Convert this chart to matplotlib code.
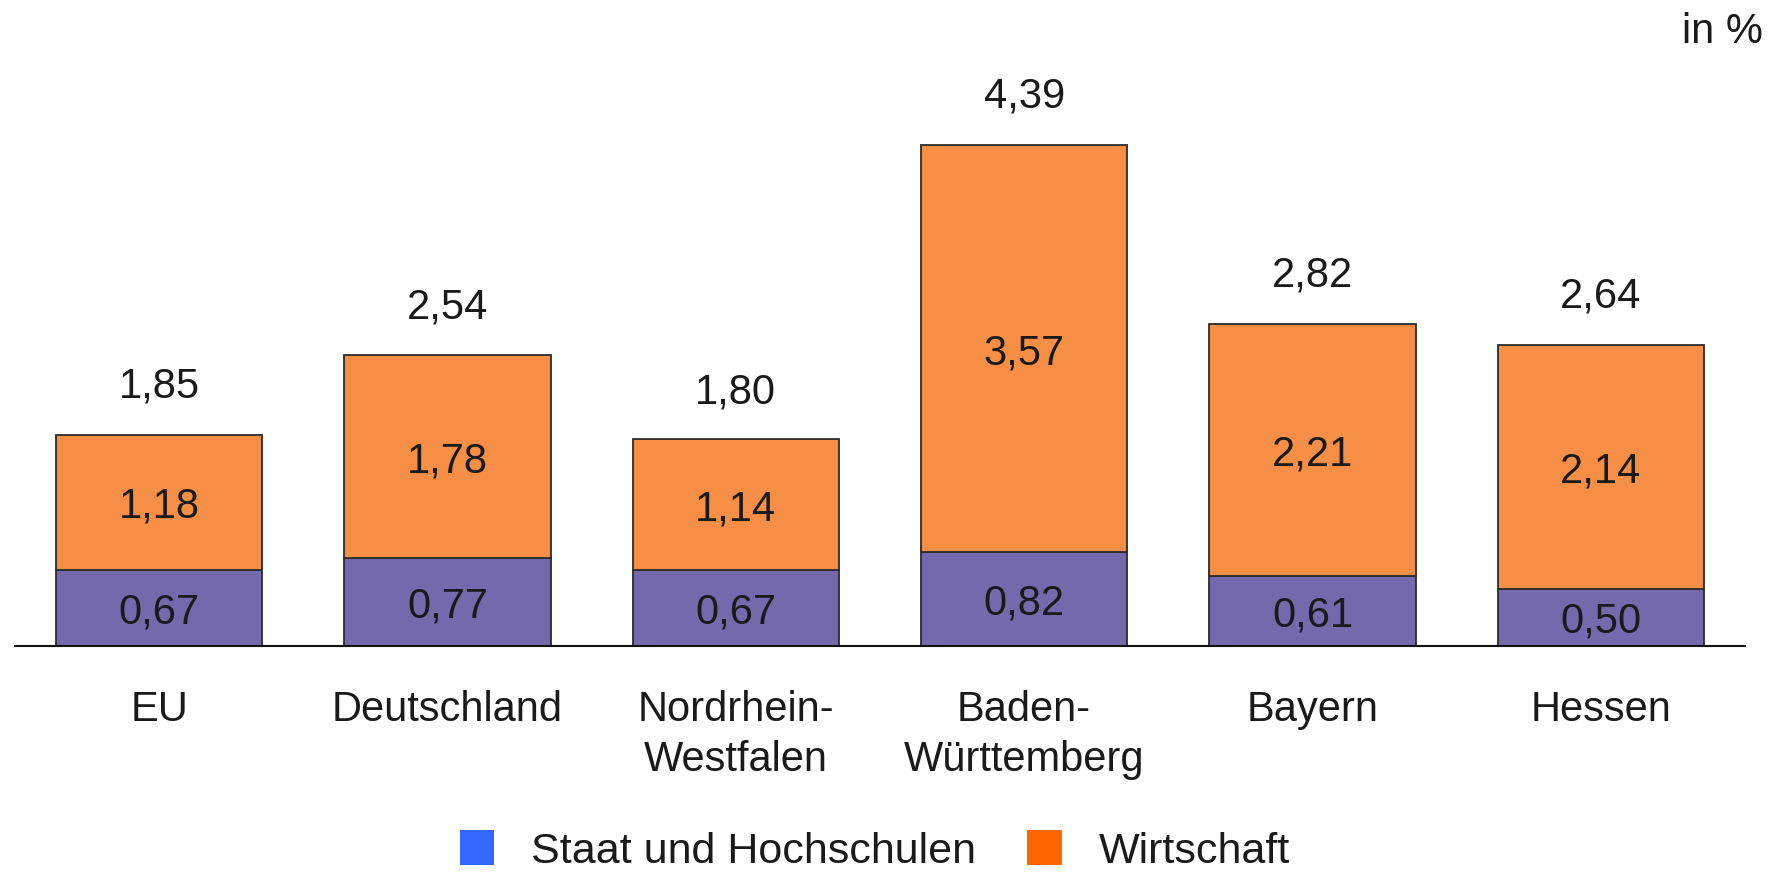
import matplotlib.pyplot as plt
from matplotlib.patches import Patch

plt.rcParams['font.family'] = ['Liberation Sans', 'DejaVu Sans']

regions = ["EU", "Deutschland", "Nordrhein-\nWestfalen", "Baden-\nWürttemberg", "Bayern", "Hessen"]
staat = [0.67, 0.77, 0.67, 0.82, 0.61, 0.50]
wirtschaft = [1.18, 1.78, 1.14, 3.57, 2.21, 2.14]
totals = [1.85, 2.54, 1.80, 4.39, 2.82, 2.64]

col_staat = "#7469ac"
col_wirt = "#f68e45"
leg_staat = "#3366ff"
leg_wirt = "#ff6600"
edge = "#2b2b2b"
fs = 30


def fmt(v):
    return f"{v:.2f}".replace(".", ",")


def main():
    fig = plt.figure(figsize=(17.77, 8.72), dpi=100)
    ax = fig.add_axes([15 / 1777, 226 / 872, 1730 / 1777, 570.5 / 872])

    x = range(len(regions))
    ax.bar(x, staat, width=0.716, color=col_staat, edgecolor=edge, linewidth=1.3)
    ax.bar(x, wirtschaft, width=0.716, bottom=staat, color=col_wirt,
           edgecolor=edge, linewidth=1.3)

    for i in x:
        ax.text(i, staat[i] / 2, fmt(staat[i]), ha="center", va="center_baseline",
                fontsize=fs, color="#1a1a1a")
        ax.text(i, staat[i] + wirtschaft[i] / 2, fmt(wirtschaft[i]), ha="center",
                va="center_baseline", fontsize=fs, color="#1a1a1a")
        ax.annotate(fmt(totals[i]), (i, totals[i]), xytext=(0, 27), textcoords="offset points",
                    ha="center", va="baseline", fontsize=fs, color="#1a1a1a")

    ax.set_xlim(-0.5, 5.5)
    ax.set_ylim(0, 5.0)
    ax.set_xticks(list(x))
    ax.set_xticklabels(regions, fontsize=fs, color="#1a1a1a", linespacing=1.3)
    ax.tick_params(axis="x", length=0, pad=32)
    ax.set_yticks([])
    for s in ["top", "left", "right"]:
        ax.spines[s].set_visible(False)
    ax.spines["bottom"].set_linewidth(1.5)
    ax.spines["bottom"].set_color("#111111")

    fig.text(1763 / 1777, 1 - 43 / 872, "in %", ha="right", va="baseline",
             fontsize=fs, color="#1a1a1a")

    handles = [Patch(facecolor=leg_staat, label="Staat und Hochschulen"),
               Patch(facecolor=leg_wirt, label="Wirtschaft")]
    fig.legend(handles=handles, loc="center", bbox_to_anchor=(875 / 1777, 1 - 851 / 872),
               ncol=2, frameon=False, fontsize=31, handlelength=0.8, handleheight=0.86,
               handletextpad=0.86, columnspacing=1.19, labelcolor="#1a1a1a")

    fig.savefig("out.png", dpi=100)


if __name__ == "__main__":
    main()
